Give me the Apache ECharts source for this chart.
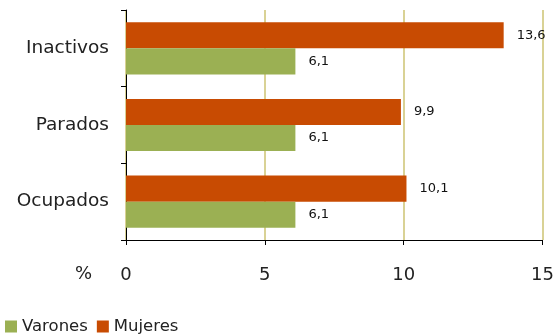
<!DOCTYPE html>
<html><head><meta charset="utf-8">
<script src="https://cdn.jsdelivr.net/npm/echarts@6/dist/echarts.min.js"></script>
<style>html,body{margin:0;padding:0;background:#fff}#c{width:557px;height:335px}</style>
</head><body><div id="c"></div>
<script>
const categories = ['Inactivos', 'Parados', 'Ocupados'];
const mujeres = [13.6, 9.9, 10.1];
const varones = [6.1, 6.1, 6.1];
const xTicks = [0, 5, 10, 15];

const FONT = 'DejaVu Sans, Verdana, sans-serif';
const chart = echarts.init(document.getElementById('c'));
const fmt = p => String(p.value).replace('.', ',');
chart.setOption({
  animation: false,
  textStyle: { fontFamily: FONT },
  grid: { left: 126, right: 14, top: 10, bottom: 95 },
  legend: {
    data: ['Varones', 'Mujeres'],
    left: 0, top: 313,
    icon: 'rect', itemWidth: 12, itemHeight: 12, itemGap: 9,
    textStyle: { fontSize: 16.5, color: '#222', fontFamily: FONT, padding: [0,0,0,0] }
  },
  xAxis: {
    type: 'value', min: xTicks[0], max: xTicks[xTicks.length-1], interval: 5,
    axisLine: { show: true, lineStyle: { color: '#000', width: 1 } },
    axisTick: { show: true, length: 5, inside: false, lineStyle: { color: '#000' } },
    axisLabel: { fontSize: 18, color: '#222', margin: 26, fontFamily: FONT },
    splitLine: { show: true, lineStyle: { color: '#d9d295', width: 2 } }
  },
  yAxis: {
    type: 'category', data: categories, inverse: true,
    axisLine: { show: true, lineStyle: { color: '#000', width: 1 } },
    axisTick: { show: true, length: 5, lineStyle: { color: '#000' } },
    axisLabel: { fontSize: 18.5, color: '#222', margin: 17, fontFamily: FONT }
  },
  graphic: [{ type: 'text', left: 75, top: 265, style: { text: '%', fontSize: 18, fill: '#222', fontFamily: FONT } }],
  series: [
    { name: 'Mujeres', type: 'bar', data: mujeres, barGap: '0%', barCategoryGap: '32%',
      itemStyle: { color: '#c84b02' },
      label: { show: true, position: 'right', distance: 13, fontSize: 13, color: '#111', fontFamily: FONT, formatter: fmt } },
    { name: 'Varones', type: 'bar', data: varones, barGap: '0%', barCategoryGap: '32%',
      itemStyle: { color: '#9bb053' },
      label: { show: true, position: 'right', distance: 13, fontSize: 13, color: '#111', fontFamily: FONT, formatter: fmt } }
  ]
});
</script></body></html>
